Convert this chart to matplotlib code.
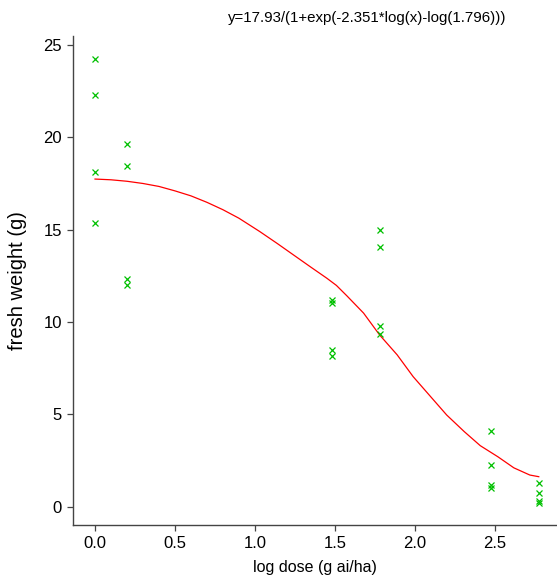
import matplotlib
matplotlib.use("Agg")
import matplotlib.pyplot as plt

# observed data (log dose vs fresh weight)
dose_log = [0.0, 0.0, 0.0, 0.0,
            0.2, 0.2, 0.2, 0.2,
            1.48, 1.48, 1.48, 1.48,
            1.78, 1.78, 1.78, 1.78,
            2.48, 2.48, 2.48, 2.48,
            2.78, 2.78, 2.78, 2.78]
fresh_weight = [24.25, 22.3, 18.1, 15.35,
                19.65, 18.45, 12.3, 12.0,
                11.2, 11.05, 8.5, 8.15,
                14.98, 14.05, 9.8, 9.35,
                4.12, 2.25, 1.15, 1.03,
                1.27, 0.72, 0.3, 0.18]

# fitted curve
curve_x = [0.0, 0.1, 0.2, 0.3, 0.4, 0.5, 0.6, 0.7, 0.8, 0.9, 1.03, 1.14,
           1.24, 1.35, 1.45, 1.51, 1.575, 1.68, 1.78, 1.89, 1.99, 2.1,
           2.2, 2.31, 2.41, 2.52, 2.62, 2.72, 2.776]
curve_y = [17.74, 17.7, 17.62, 17.5, 17.34, 17.1, 16.83, 16.48, 16.08, 15.62,
           14.9, 14.25, 13.64, 12.97, 12.37, 11.98, 11.42, 10.48, 9.3, 8.22,
           7.04, 5.95, 4.96, 4.06, 3.3, 2.7, 2.1, 1.71, 1.62]

title = "y=17.93/(1+exp(-2.351*log(x)-log(1.796)))"

plt.rcParams["font.family"] = ["Liberation Sans", "DejaVu Sans"]

fig = plt.figure(figsize=(5.57, 5.77), dpi=100)
ax = fig.add_axes([0.131, 0.090, 0.869, 0.848])

ax.plot(curve_x, curve_y, color="#ff0000", linewidth=0.9)
ax.plot(dose_log, fresh_weight, linestyle="none", marker="x", color="#00c000",
        markersize=5, markeredgewidth=0.9)

ax.set_xlim(-0.138, 2.89)
ax.set_ylim(-1.0, 25.5)
ax.set_xticks([0.0, 0.5, 1.0, 1.5, 2.0, 2.5])
ax.set_yticks([0, 5, 10, 15, 20, 25])
ax.set_xticklabels(["0.0", "0.5", "1.0", "1.5", "2.0", "2.5"])

for side in ["top", "right"]:
    ax.spines[side].set_visible(False)
for side in ["left", "bottom"]:
    ax.spines[side].set_color("#444444")
    ax.spines[side].set_linewidth(1.0)

ax.tick_params(direction="out", length=4, width=0.9, color="#444444",
               labelsize=12, pad=4)

ax.set_xlabel("log dose (g ai/ha)", fontsize=11.5, labelpad=6)
ax.set_ylabel("fresh weight (g)", fontsize=14.5, labelpad=12)

fig.text(0.659, 0.968, title, ha="center", va="center", fontsize=10.8)

fig.savefig("out.png", dpi=100)
plt.close(fig)
